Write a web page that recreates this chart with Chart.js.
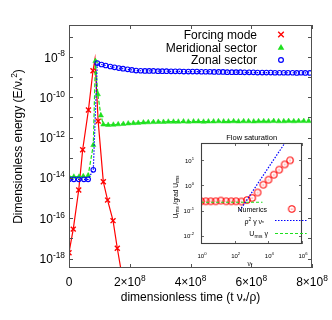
<!DOCTYPE html>
<html>
<head>
<meta charset="utf-8">
<script src="https://cdn.jsdelivr.net/npm/chart.js@4"></script>
<style>
html, body { margin: 0; padding: 0; background: #fff; }
#wrap { position: relative; width: 332px; height: 320px; }
#main { position: absolute; left: 0; top: 0; }
#inset { position: absolute; left: 160px; top: 125px; }
</style>
</head>
<body>
<div id="wrap">
  <canvas id="main" width="332" height="320"></canvas>
  <canvas id="inset" width="172" height="150"></canvas>
</div>
<script>
// ---- main plot data: time in 1e8 units, energy as log10 exponent ----
const forcingT = [0, 0.14, 0.32, 0.45, 0.64, 0.79, 0.855, 0.96, 1.13, 1.27, 1.45, 1.59, 1.75];
const forcingE = [-17.71, -16.54, -14.6, -12.6, -10.63, -8.68, -8.1, -11.18, -14.19, -15.1, -16.12, -17.49, -18.9];

const meridT = [0, 0.16, 0.33, 0.47, 0.63, 0.80, 0.87, 0.95, 1.05, 1.13, 1.29, 1.46, 1.62, 1.79, 1.95,
  2.12, 2.28, 2.45, 2.61, 2.78, 2.94, 3.11, 3.27, 3.44, 3.60, 3.77, 3.93, 4.10, 4.26, 4.43,
  4.59, 4.76, 4.92, 5.09, 5.25, 5.42, 5.58, 5.75, 5.91, 6.08, 6.24, 6.41, 6.57, 6.74, 6.90,
  7.07, 7.23, 7.40, 7.56, 7.73, 7.89];
const meridE = [-13.94, -13.94, -13.94, -13.92, -13.88, -12.37, -8.2, -9.85, -10.9, -11.35, -11.37, -11.36, -11.34, -11.32, -11.30,
  -11.28, -11.27, -11.25, -11.24, -11.23, -11.22, -11.22, -11.21, -11.21, -11.21, -11.20, -11.21, -11.20, -11.20, -11.21,
  -11.20, -11.20, -11.19, -11.20, -11.20, -11.19, -11.20, -11.19, -11.19, -11.20, -11.19, -11.19, -11.19, -11.18, -11.19,
  -11.19, -11.18, -11.19, -11.18, -11.18, -11.18];

const zonalT = [0, 0.16, 0.32, 0.49, 0.63, 0.80, 0.93, 1.07, 1.21, 1.36, 1.50, 1.64, 1.78, 1.93, 2.07,
  2.21, 2.36, 2.50, 2.64, 2.78, 2.93, 3.07, 3.21, 3.36, 3.50, 3.64, 3.78, 3.93, 4.07, 4.21,
  4.36, 4.50, 4.64, 4.78, 4.93, 5.07, 5.21, 5.36, 5.50, 5.64, 5.78, 5.93, 6.07, 6.21, 6.36,
  6.50, 6.64, 6.78, 6.93, 7.07, 7.21, 7.36, 7.50, 7.64, 7.78, 7.93];
const zonalE = [-14.07, -14.07, -14.07, -14.07, -14.07, -13.6, -8.3, -8.37, -8.42, -8.47, -8.51, -8.55, -8.58, -8.61, -8.64,
  -8.67, -8.68, -8.69, -8.69, -8.69, -8.70, -8.70, -8.70, -8.71, -8.71, -8.71, -8.72, -8.72, -8.72, -8.72,
  -8.73, -8.73, -8.73, -8.74, -8.74, -8.74, -8.75, -8.75, -8.75, -8.75, -8.76, -8.76, -8.76, -8.77, -8.77,
  -8.77, -8.77, -8.78, -8.78, -8.78, -8.78, -8.78, -8.79, -8.78, -8.79, -8.79];

const seriesNames = ['Forcing mode', 'Meridional sector', 'Zonal sector'];
const xTickVals = [0, 2e8, 4e8, 6e8, 8e8];
const xTickLabels = [['0'], ['2×10', '8'], ['4×10', '8'], ['6×10', '8'], ['8×10', '8']];
const yTickExps = [-18, -17, -16, -15, -14, -13, -12, -11, -10, -9, -8, -7];
const yLabelExps = [-18, -16, -14, -12, -10, -8];

// ---- inset data ----
const numNu = [1, 1.9, 3.7, 7.4, 15, 31, 62, 120, 250, 540, 1100, 2300, 5000, 10200, 21000, 44000, 93000, 195000];
const numU = [0.235, 0.235, 0.235, 0.235, 0.25, 0.235, 0.235, 0.235, 0.23, 0.263, 0.32, 0.525, 1.07, 1.69, 2.68, 4.25, 6.9, 10];
const fitNu = [200, 100000];
const fitU = [0.1, 51];
const urmsNu = [1, 4500];
const urmsU = [0.215, 0.215];
const insetXTicks = [1, 100, 10000, 1000000];
const insetXLabels = ['0', '2', '4', '6'];
const insetYTicks = [10, 1, 0.1, 0.01];
const insetYLabels = ['1', '0', '-1', '-2'];

const FONT = "'Liberation Sans', Arial, Helvetica, sans-serif";
const RED = '#ff0000', GREEN = '#1ee01e', BLUE = '#0000ff';

// draw text made of parts [text, 0 normal | 1 sup | -1 sub]
function rich(ctx, parts, x, y, align, size) {
  ctx.fillStyle = '#000';
  ctx.textAlign = 'left';
  ctx.textBaseline = 'alphabetic';
  const fs = k => (k ? size * 0.7 : size);
  let w = 0;
  parts.forEach(p => { ctx.font = fs(p[1]) + 'px ' + FONT; w += ctx.measureText(p[0]).width; });
  let cx = align === 'right' ? x - w : (align === 'center' ? x - w / 2 : x);
  parts.forEach(p => {
    ctx.font = fs(p[1]) + 'px ' + FONT;
    const dy = p[1] === 1 ? -size * 0.42 : (p[1] === -1 ? size * 0.22 : 0);
    ctx.fillText(p[0], cx, y + dy);
    cx += ctx.measureText(p[0]).width;
  });
}

function seg(ctx, x1, y1, x2, y2) {
  ctx.beginPath(); ctx.moveTo(x1, y1); ctx.lineTo(x2, y2); ctx.stroke();
}

const toPts = (xs, ys, sx, pow) => xs.map((v, i) => ({ x: v * sx, y: pow ? Math.pow(10, ys[i]) : ys[i] }));

// 🔹 MAIN CHART
const mainDecor = {
  id: 'mainDecor',
  beforeDraw(chart) {
    const c = chart.ctx;
    c.save(); c.fillStyle = '#fff'; c.fillRect(0, 0, chart.width, chart.height); c.restore();
  },
  afterDraw(chart) {
    const c = chart.ctx, a = chart.chartArea, sx = chart.scales.x, sy = chart.scales.y;
    c.save();
    c.strokeStyle = '#505050';
    c.lineWidth = 1;
    c.strokeRect(a.left + 0.5, a.top + 0.5, a.right - a.left - 1, a.bottom - a.top - 1);

    xTickVals.forEach((v, i) => {
      const px = Math.round(sx.getPixelForValue(v)) + 0.5;
      seg(c, px, a.bottom, px, a.bottom - 4);
      seg(c, px, a.top, px, a.top + 4);
      const lab = xTickLabels[i];
      const parts = lab.length > 1 ? [[lab[0], 0], [lab[1], 1]] : [[lab[0], 0]];
      rich(c, parts, sx.getPixelForValue(v), 286, 'center', 12);
    });
    yTickExps.forEach(e => {
      const py = Math.round(sy.getPixelForValue(Math.pow(10, e))) + 0.5;
      seg(c, a.left, py, a.left + 4, py);
      seg(c, a.right, py, a.right - 4, py);
    });
    yLabelExps.forEach(e => {
      const py = sy.getPixelForValue(Math.pow(10, e));
      rich(c, [['10', 0], [String(e), 1]], 65, py + 4.5, 'right', 12);
    });

    // axis titles
    rich(c, [['dimensionless time (t ν', 0], ['*', -1], ['/ρ)', 0]], (a.left + a.right) / 2, 301, 'center', 12);
    c.save();
    c.translate(22, (a.top + a.bottom) / 2);
    c.rotate(-Math.PI / 2);
    rich(c, [['Dimensionless energy (E/ν', 0], ['*', -1], ['2', 1], [')', 0]], 0, 0, 'center', 12);
    c.restore();

    // legend
    const ly = [34.5, 47.5, 60];
    seriesNames.forEach((n, i) => rich(c, [[n, 0]], 257, ly[i] + 4.3, 'right', 12));
    const mx = 281;
    c.strokeStyle = RED; c.lineWidth = 1.3;
    seg(c, mx - 2.8, ly[0] - 2.8, mx + 2.8, ly[0] + 2.8);
    seg(c, mx - 2.8, ly[0] + 2.8, mx + 2.8, ly[0] - 2.8);
    c.fillStyle = GREEN;
    c.beginPath(); c.moveTo(mx, ly[1] - 3.5); c.lineTo(mx + 3.3, ly[1] + 2.3); c.lineTo(mx - 3.3, ly[1] + 2.3); c.closePath(); c.fill();
    c.strokeStyle = BLUE; c.lineWidth = 1.2;
    c.beginPath(); c.arc(mx, ly[2], 2.4, 0, Math.PI * 2); c.stroke();
    c.restore();
  }
};

new Chart(document.getElementById('main'), {
  type: 'line',
  data: {
    datasets: [
      {
        label: seriesNames[0], data: toPts(forcingT, forcingE, 1e8, true), order: 2,
        borderColor: RED, borderWidth: 1.2, pointStyle: 'crossRot',
        pointRadius: ctx => (ctx.dataIndex === 6 ? 0 : 3.5),
        pointBorderColor: RED, pointBorderWidth: 1.4, tension: 0
      },
      {
        label: seriesNames[1], data: toPts(meridT, meridE, 1e8, true), order: 1,
        borderColor: GREEN, borderWidth: 1.2, borderDash: [4, 2], pointStyle: 'triangle',
        pointRadius: 3, pointBackgroundColor: GREEN, pointBorderColor: GREEN, pointBorderWidth: 0.5, tension: 0
      },
      {
        label: seriesNames[2], data: toPts(zonalT, zonalE, 1e8, true), order: 0,
        borderColor: BLUE, borderWidth: 1.2, borderDash: [1.5, 1.5], pointStyle: 'circle',
        pointRadius: 2.3, pointBackgroundColor: 'rgba(0,0,0,0)', pointBorderColor: BLUE, pointBorderWidth: 1.1, tension: 0
      }
    ]
  },
  options: {
    responsive: false, animation: false, events: [],
    layout: { padding: { left: 69, top: 25, right: 20, bottom: 52 } },
    plugins: { legend: { display: false }, tooltip: { enabled: false } },
    scales: {
      x: { type: 'linear', min: 0, max: 8e8, display: false },
      y: { type: 'logarithmic', min: Math.pow(10, -18.47), max: Math.pow(10, -6.41), display: false }
    }
  },
  plugins: [mainDecor]
});

// 🔹 INSET
function ringDot(color) {
  const cv = document.createElement('canvas');
  cv.width = 10; cv.height = 10;
  const g = cv.getContext('2d');
  g.strokeStyle = color; g.lineWidth = 1.1;
  g.beginPath(); g.arc(5, 5, 3.2, 0, Math.PI * 2); g.stroke();
  g.fillStyle = color;
  g.beginPath(); g.arc(5, 5, 0.6, 0, Math.PI * 2); g.fill();
  return cv;
}
const ring = ringDot(RED);

const insetDecor = {
  id: 'insetDecor',
  beforeDatasetsDraw(chart) {
    const c = chart.ctx, a = chart.chartArea;
    c.save(); c.fillStyle = '#fff'; c.fillRect(a.left, a.top, a.right - a.left, a.bottom - a.top); c.restore();
  },
  afterDraw(chart) {
    const c = chart.ctx, a = chart.chartArea, sx = chart.scales.x, sy = chart.scales.y;
    c.save();
    c.strokeStyle = '#404040'; c.lineWidth = 1.1;
    c.strokeRect(a.left + 0.5, a.top + 0.5, a.right - a.left - 1, a.bottom - a.top - 1);
    c.lineWidth = 0.8;
    insetXTicks.forEach((v, i) => {
      const px = Math.round(sx.getPixelForValue(v)) + 0.5;
      seg(c, px, a.bottom, px, a.bottom - 3);
      seg(c, px, a.top, px, a.top + 3);
      rich(c, [['10', 0], [insetXLabels[i], 1]], sx.getPixelForValue(v) + 1, 132.5, 'center', 6);
    });
    insetYTicks.forEach((v, i) => {
      const py = Math.round(sy.getPixelForValue(v)) + 0.5;
      seg(c, a.left, py, a.left + 3, py);
      seg(c, a.right, py, a.right - 3, py);
      rich(c, [['10', 0], [insetYLabels[i], 1]], 34, sy.getPixelForValue(v) + 2.2, 'right', 6);
    });
    rich(c, [['Flow saturation', 0]], 91.7, 15, 'center', 7.5);
    rich(c, [['ν', 0], ['*', -1]], 90, 141, 'center', 6.5);
    c.save();
    c.translate(17.5, 72);
    c.rotate(-Math.PI / 2);
    rich(c, [['U', 0], ['rms', -1], [' /grad U', 0], ['rms', -1]], 0, 0, 'center', 6.5);
    c.restore();

    // legend
    rich(c, [['Numerics', 0]], 107, 87, 'right', 7);
    c.drawImage(ring, 131.7 - 5, 84 - 5);
    rich(c, [['ρ', 0], ['2', 1], [' γ ν', 0], ['*', -1]], 104, 98.5, 'right', 7);
    c.strokeStyle = BLUE; c.lineWidth = 1.2; c.setLineDash([1.5, 1.5]);
    seg(c, 115, 95.5, 146.7, 95.5);
    rich(c, [['U', 0], ['rms', -1], [' γ', 0]], 108, 111, 'right', 7);
    c.strokeStyle = GREEN; c.setLineDash([3, 2]);
    seg(c, 115, 108.5, 146.7, 108.5);
    c.restore();
  }
};

new Chart(document.getElementById('inset'), {
  type: 'line',
  data: {
    datasets: [
      {
        label: 'Numerics', data: toPts(numNu, numU, 1, false), order: 2, showLine: false,
        pointStyle: ring, pointRadius: 3.5
      },
      {
        label: 'fit', data: toPts(fitNu, fitU, 1, false), order: 1,
        borderColor: BLUE, borderWidth: 1.2, borderDash: [1.5, 1.5], pointRadius: 0
      },
      {
        label: 'Urms', data: toPts(urmsNu, urmsU, 1, false), order: 0,
        borderColor: GREEN, borderWidth: 1.2, borderDash: [3, 2], pointRadius: 0
      }
    ]
  },
  options: {
    responsive: false, animation: false, events: [],
    layout: { padding: { left: 41, top: 18, right: 30, bottom: 31 } },
    plugins: { legend: { display: false }, tooltip: { enabled: false } },
    scales: {
      x: { type: 'logarithmic', min: 1, max: 1e6, display: false },
      y: { type: 'logarithmic', min: Math.pow(10, -2.33), max: Math.pow(10, 1.69), display: false }
    }
  },
  plugins: [insetDecor]
});
</script>
</body>
</html>
